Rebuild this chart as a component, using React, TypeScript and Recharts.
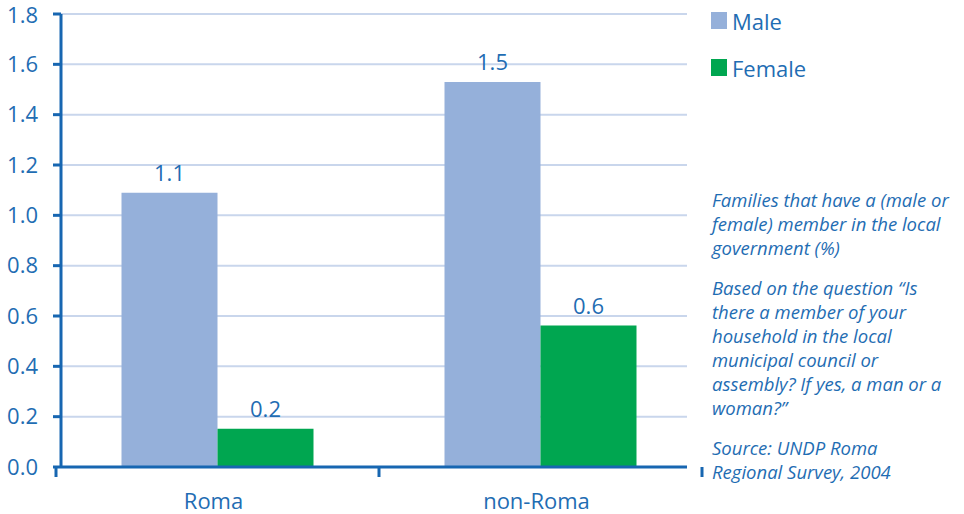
import React from "react";
import { BarChart, Bar, XAxis, YAxis, CartesianGrid, LabelList, Legend } from "recharts";

const categories = ["Roma", "non-Roma"];
const maleValues = [1.09, 1.53];
const femaleValues = [0.152, 0.562];
const yTicks = [0, 0.2, 0.4, 0.6, 0.8, 1.0, 1.2, 1.4, 1.6, 1.8];
const seriesNames = ["Male", "Female"];
const noteParagraphs = [
  ["Families that have a (male or", "female) member in the local", "government (%)"],
  ["Based on the question \u201cIs", "there a member of your", "household in the local", "municipal council or", "assembly? If yes, a man or a", "woman?\u201d"],
  ["Source: UNDP Roma", "Regional Survey, 2004"],
];

const data = categories.map((c, i) => ({ name: c, male: maleValues[i], female: femaleValues[i] }));

const W = 964;
const H = 514;
const MARGIN = { top: 14, right: 277, bottom: 0, left: 0 };
const Y_W = 61;
const X_H = 47;
const PAD = { left: -5, right: -15 };
const PLOT_W = W - MARGIN.left - MARGIN.right - Y_W;
const BAND = (PLOT_W - PAD.left - PAD.right) / categories.length;

const BLUE = "#1766b1";
const TEXT = "#1f6db3";
const MALE = "#95b0da";
const FEMALE = "#00a650";
const GRID = "#c9d6ec";
const FONT = "'Open Sans', sans-serif";

const XTick = (props: any) => {
  const { x, y, payload, index } = props;
  const last = index === categories.length - 1;
  return (
    <g>
      <line x1={x - BAND / 2} x2={x - BAND / 2} y1={y - 8} y2={y + 2} stroke={BLUE} strokeWidth={3} />
      {last && <line x1={x + BAND / 2} x2={x + BAND / 2} y1={y - 8} y2={y + 2} stroke={BLUE} strokeWidth={3} />}
      <text x={x - 4} y={y + 34} textAnchor="middle" fill={TEXT} fontSize={22} fontFamily={FONT}>
        {payload.value}
      </text>
    </g>
  );
};

const LegendContent = () => (
  <div style={{ fontFamily: FONT }}>
    {seriesNames.map((n, i) => (
      <div key={n} style={{ display: "flex", alignItems: "center", height: 47 }}>
        <div style={{ width: 16, height: 17, background: i === 0 ? MALE : FEMALE, marginRight: 5 }} />
        <span style={{ color: TEXT, fontSize: 22, lineHeight: "22px" }}>{n}</span>
      </div>
    ))}
  </div>
);

export default function App() {
  return (
    <div style={{ position: "absolute", left: 0, top: 0, width: W, height: H, background: "#fff" }}>
      <BarChart width={W} height={H} data={data} margin={MARGIN} barCategoryGap={(BAND - 192) / 2} barGap={0}>
        <CartesianGrid horizontal vertical={false} stroke={GRID} strokeWidth={2} />
        <XAxis
          dataKey="name"
          height={X_H}
          padding={PAD}
          axisLine={{ stroke: BLUE, strokeWidth: 3 }}
          tickLine={false}
          tick={<XTick />}
          interval={0}
        />
        <YAxis
          width={Y_W}
          domain={[0, 1.8]}
          ticks={yTicks}
          tickFormatter={(v: number) => v.toFixed(1)}
          axisLine={{ stroke: BLUE, strokeWidth: 3 }}
          tickLine={{ stroke: BLUE, strokeWidth: 3 }}
          tickSize={8}
          tickMargin={15}
          tick={{ fill: TEXT, fontSize: 22, fontFamily: FONT }}
        />
        <Legend
          layout="horizontal"
          verticalAlign="middle"
          align="center"
          content={<LegendContent />}
          wrapperStyle={{ position: "absolute", left: 711, top: -3, width: 200, height: 100 }}
        />
        <Bar dataKey="male" name="Male" fill={MALE} isAnimationActive={false}>
          <LabelList
            dataKey="male"
            position="top"
            offset={12}
            formatter={(v: any) => Number(v).toFixed(1)}
            style={{ fill: TEXT, fontSize: 22, fontFamily: FONT }}
          />
        </Bar>
        <Bar dataKey="female" name="Female" fill={FEMALE} isAnimationActive={false}>
          <LabelList
            dataKey="female"
            position="top"
            offset={12}
            formatter={(v: any) => Number(v).toFixed(1)}
            style={{ fill: TEXT, fontSize: 22, fontFamily: FONT }}
          />
        </Bar>
      </BarChart>
      <div
        style={{
          position: "absolute",
          left: 712,
          top: 188,
          fontFamily: FONT,
          fontStyle: "italic",
          fontSize: 18.5,
          lineHeight: "24px",
          color: TEXT,
          whiteSpace: "nowrap",
        }}
      >
        {noteParagraphs.map((p, i) => (
          <div key={i} style={{ marginBottom: 16 }}>
            {p.map((l) => (
              <div key={l}>{l}</div>
            ))}
          </div>
        ))}
      </div>
    </div>
  );
}
